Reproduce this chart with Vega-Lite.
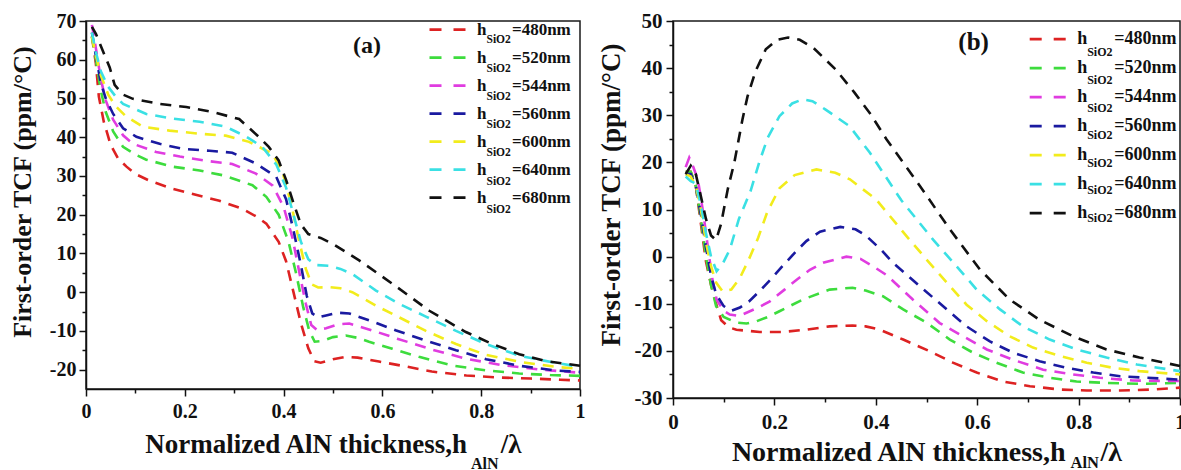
{
  "$schema": "https://vega.github.io/schema/vega-lite/v6.json",
  "background": "white",
  "padding": {"left": 8, "top": 9, "right": 0, "bottom": 0},
  "spacing": 10,
  "config": {
    "font": "Liberation Serif",
    "view": {"stroke": "#1a1a1a", "strokeWidth": 1.5},
    "axis": {"labelFont": "Liberation Serif", "labelFontWeight": "bold", "labelColor": "#111", "titleFont": "Liberation Serif", "titleFontWeight": "bold", "titleColor": "#111", "domainColor": "#111", "domainWidth": 1.5, "tickColor": "#111", "tickWidth": 1.5, "grid": false, "labelFlush": false, "labelOverlap": false},
    "legend": {"labelFont": "Liberation Serif", "labelFontWeight": "bold", "labelColor": "#111", "padding": 0, "labelLimit": 400}
  },
  "datasets": {
    "a": [
      {"s":"480","x":0.012,"y":66},{"s":"480","x":0.02,"y":59},{"s":"480","x":0.026,"y":50.5},{"s":"480","x":0.036,"y":44},{"s":"480","x":0.05,"y":38},{"s":"480","x":0.065,"y":34.5},{"s":"480","x":0.082,"y":32.4},{"s":"480","x":0.1,"y":30.5},{"s":"480","x":0.128,"y":28.8},{"s":"480","x":0.175,"y":26.7},{"s":"480","x":0.23,"y":24.9},{"s":"480","x":0.27,"y":23.6},{"s":"480","x":0.317,"y":21.5},{"s":"480","x":0.345,"y":19.5},{"s":"480","x":0.365,"y":17.7},{"s":"480","x":0.39,"y":13},{"s":"480","x":0.405,"y":8},{"s":"480","x":0.42,"y":0},{"s":"480","x":0.435,"y":-8},{"s":"480","x":0.45,"y":-14.5},{"s":"480","x":0.462,"y":-17.8},{"s":"480","x":0.475,"y":-18.2},{"s":"480","x":0.5,"y":-17.3},{"s":"480","x":0.525,"y":-16.7},{"s":"480","x":0.55,"y":-16.9},{"s":"480","x":0.593,"y":-17.9},{"s":"480","x":0.648,"y":-19.2},{"s":"480","x":0.7,"y":-20.5},{"s":"480","x":0.77,"y":-21.5},{"s":"480","x":0.83,"y":-22},{"s":"480","x":0.9,"y":-22.3},{"s":"480","x":0.96,"y":-22.6},{"s":"480","x":1,"y":-22.8},
      {"s":"520","x":0.012,"y":66},{"s":"520","x":0.02,"y":60},{"s":"520","x":0.03,"y":52},{"s":"520","x":0.04,"y":46.5},{"s":"520","x":0.055,"y":41.5},{"s":"520","x":0.075,"y":37.5},{"s":"520","x":0.1,"y":35.5},{"s":"520","x":0.122,"y":34.2},{"s":"520","x":0.175,"y":32.4},{"s":"520","x":0.23,"y":31.4},{"s":"520","x":0.28,"y":30.1},{"s":"520","x":0.337,"y":27.6},{"s":"520","x":0.365,"y":24.6},{"s":"520","x":0.39,"y":20},{"s":"520","x":0.41,"y":13},{"s":"520","x":0.425,"y":5},{"s":"520","x":0.44,"y":-4},{"s":"520","x":0.452,"y":-10},{"s":"520","x":0.463,"y":-12.8},{"s":"520","x":0.479,"y":-12.6},{"s":"520","x":0.5,"y":-11.6},{"s":"520","x":0.526,"y":-11.2},{"s":"520","x":0.55,"y":-11.8},{"s":"520","x":0.573,"y":-12.8},{"s":"520","x":0.62,"y":-14.6},{"s":"520","x":0.674,"y":-16.7},{"s":"520","x":0.74,"y":-18.9},{"s":"520","x":0.81,"y":-20.2},{"s":"520","x":0.877,"y":-21},{"s":"520","x":0.94,"y":-21.4},{"s":"520","x":1,"y":-21.6},
      {"s":"544","x":0.012,"y":69},{"s":"544","x":0.02,"y":63},{"s":"544","x":0.03,"y":55},{"s":"544","x":0.04,"y":49.5},{"s":"544","x":0.055,"y":44.5},{"s":"544","x":0.075,"y":40.5},{"s":"544","x":0.095,"y":38.3},{"s":"544","x":0.142,"y":36.2},{"s":"544","x":0.19,"y":35},{"s":"544","x":0.243,"y":33.9},{"s":"544","x":0.296,"y":33.1},{"s":"544","x":0.344,"y":30.6},{"s":"544","x":0.378,"y":27.5},{"s":"544","x":0.4,"y":22},{"s":"544","x":0.418,"y":14},{"s":"544","x":0.432,"y":5},{"s":"544","x":0.445,"y":-3},{"s":"544","x":0.456,"y":-8.5},{"s":"544","x":0.468,"y":-9.8},{"s":"544","x":0.486,"y":-9.3},{"s":"544","x":0.51,"y":-8.3},{"s":"544","x":0.533,"y":-8.1},{"s":"544","x":0.58,"y":-9.9},{"s":"544","x":0.63,"y":-12},{"s":"544","x":0.7,"y":-14.8},{"s":"544","x":0.77,"y":-17.2},{"s":"544","x":0.84,"y":-18.8},{"s":"544","x":0.92,"y":-20},{"s":"544","x":1,"y":-20.8},
      {"s":"560","x":0.012,"y":67},{"s":"560","x":0.02,"y":61},{"s":"560","x":0.03,"y":54},{"s":"560","x":0.04,"y":50},{"s":"560","x":0.055,"y":46},{"s":"560","x":0.075,"y":42.3},{"s":"560","x":0.102,"y":40.1},{"s":"560","x":0.149,"y":38.3},{"s":"560","x":0.196,"y":37},{"s":"560","x":0.25,"y":36.5},{"s":"560","x":0.296,"y":36},{"s":"560","x":0.344,"y":33.2},{"s":"560","x":0.385,"y":29.8},{"s":"560","x":0.405,"y":24},{"s":"560","x":0.42,"y":16},{"s":"560","x":0.435,"y":7},{"s":"560","x":0.447,"y":-1},{"s":"560","x":0.458,"y":-5.5},{"s":"560","x":0.47,"y":-6.5},{"s":"560","x":0.486,"y":-6},{"s":"560","x":0.51,"y":-5.3},{"s":"560","x":0.533,"y":-5.5},{"s":"560","x":0.58,"y":-7.6},{"s":"560","x":0.628,"y":-9.9},{"s":"560","x":0.688,"y":-12.5},{"s":"560","x":0.749,"y":-15},{"s":"560","x":0.81,"y":-17.3},{"s":"560","x":0.877,"y":-19},{"s":"560","x":0.95,"y":-20.2},{"s":"560","x":1,"y":-20.6},
      {"s":"600","x":0.012,"y":66},{"s":"600","x":0.02,"y":61},{"s":"600","x":0.03,"y":56},{"s":"600","x":0.045,"y":51},{"s":"600","x":0.06,"y":48},{"s":"600","x":0.08,"y":45.5},{"s":"600","x":0.115,"y":42.7},{"s":"600","x":0.169,"y":41.7},{"s":"600","x":0.23,"y":40.9},{"s":"600","x":0.283,"y":40.4},{"s":"600","x":0.33,"y":38.8},{"s":"600","x":0.378,"y":35.7},{"s":"600","x":0.4,"y":30},{"s":"600","x":0.415,"y":23},{"s":"600","x":0.43,"y":14},{"s":"600","x":0.445,"y":6},{"s":"600","x":0.457,"y":2},{"s":"600","x":0.47,"y":1.2},{"s":"600","x":0.492,"y":1.3},{"s":"600","x":0.515,"y":1},{"s":"600","x":0.539,"y":0},{"s":"600","x":0.587,"y":-3.5},{"s":"600","x":0.634,"y":-6.5},{"s":"600","x":0.688,"y":-10},{"s":"600","x":0.749,"y":-13.4},{"s":"600","x":0.81,"y":-16.2},{"s":"600","x":0.883,"y":-18.1},{"s":"600","x":0.96,"y":-19.4},{"s":"600","x":1,"y":-19.8},
      {"s":"640","x":0.012,"y":67},{"s":"640","x":0.02,"y":62},{"s":"640","x":0.03,"y":57},{"s":"640","x":0.045,"y":53},{"s":"640","x":0.06,"y":50.5},{"s":"640","x":0.075,"y":48.6},{"s":"640","x":0.122,"y":46},{"s":"640","x":0.175,"y":44.8},{"s":"640","x":0.23,"y":44},{"s":"640","x":0.283,"y":42.7},{"s":"640","x":0.325,"y":40.1},{"s":"640","x":0.357,"y":37.5},{"s":"640","x":0.385,"y":33},{"s":"640","x":0.405,"y":27},{"s":"640","x":0.42,"y":20},{"s":"640","x":0.435,"y":13},{"s":"640","x":0.45,"y":8.5},{"s":"640","x":0.465,"y":7},{"s":"640","x":0.492,"y":6.8},{"s":"640","x":0.515,"y":6},{"s":"640","x":0.539,"y":4.7},{"s":"640","x":0.587,"y":0.4},{"s":"640","x":0.634,"y":-3},{"s":"640","x":0.688,"y":-6.3},{"s":"640","x":0.749,"y":-10},{"s":"640","x":0.81,"y":-13.4},{"s":"640","x":0.877,"y":-16.4},{"s":"640","x":0.944,"y":-18.1},{"s":"640","x":1,"y":-19.3},
      {"s":"680","x":0.012,"y":68.5},{"s":"680","x":0.02,"y":66.7},{"s":"680","x":0.035,"y":62},{"s":"680","x":0.048,"y":58},{"s":"680","x":0.058,"y":53.5},{"s":"680","x":0.075,"y":51},{"s":"680","x":0.095,"y":49.9},{"s":"680","x":0.149,"y":48.6},{"s":"680","x":0.203,"y":47.8},{"s":"680","x":0.256,"y":46.5},{"s":"680","x":0.31,"y":44.7},{"s":"680","x":0.35,"y":40.1},{"s":"680","x":0.37,"y":37.5},{"s":"680","x":0.39,"y":34},{"s":"680","x":0.405,"y":29},{"s":"680","x":0.42,"y":23},{"s":"680","x":0.435,"y":17.5},{"s":"680","x":0.45,"y":15},{"s":"680","x":0.475,"y":14},{"s":"680","x":0.499,"y":12.5},{"s":"680","x":0.553,"y":8.2},{"s":"680","x":0.6,"y":4},{"s":"680","x":0.648,"y":-0.4},{"s":"680","x":0.695,"y":-4.8},{"s":"680","x":0.769,"y":-10.3},{"s":"680","x":0.823,"y":-13.4},{"s":"680","x":0.877,"y":-16},{"s":"680","x":0.93,"y":-17.8},{"s":"680","x":0.977,"y":-18.6},{"s":"680","x":1,"y":-19}
    ],
    "b": [
      {"s":"480","x":0.025,"y":18},{"s":"480","x":0.035,"y":18},{"s":"480","x":0.045,"y":15},{"s":"480","x":0.055,"y":7},{"s":"480","x":0.065,"y":-1},{"s":"480","x":0.075,"y":-6},{"s":"480","x":0.085,"y":-10},{"s":"480","x":0.095,"y":-13.5},{"s":"480","x":0.11,"y":-15},{"s":"480","x":0.125,"y":-15.5},{"s":"480","x":0.171,"y":-16},{"s":"480","x":0.216,"y":-16},{"s":"480","x":0.263,"y":-15.5},{"s":"480","x":0.309,"y":-14.8},{"s":"480","x":0.354,"y":-14.6},{"s":"480","x":0.38,"y":-14.8},{"s":"480","x":0.408,"y":-15.5},{"s":"480","x":0.454,"y":-17.6},{"s":"480","x":0.507,"y":-20.1},{"s":"480","x":0.552,"y":-22.5},{"s":"480","x":0.599,"y":-24.6},{"s":"480","x":0.651,"y":-26.5},{"s":"480","x":0.704,"y":-27.5},{"s":"480","x":0.763,"y":-28.2},{"s":"480","x":0.816,"y":-28.4},{"s":"480","x":0.882,"y":-28.4},{"s":"480","x":0.947,"y":-28.2},{"s":"480","x":1,"y":-27.8},
      {"s":"520","x":0.025,"y":18},{"s":"520","x":0.035,"y":18},{"s":"520","x":0.045,"y":15},{"s":"520","x":0.055,"y":8},{"s":"520","x":0.065,"y":0},{"s":"520","x":0.075,"y":-6},{"s":"520","x":0.085,"y":-10.5},{"s":"520","x":0.1,"y":-12.8},{"s":"520","x":0.125,"y":-14},{"s":"520","x":0.145,"y":-14.2},{"s":"520","x":0.165,"y":-13.7},{"s":"520","x":0.187,"y":-12.8},{"s":"520","x":0.21,"y":-11.6},{"s":"520","x":0.256,"y":-9.1},{"s":"520","x":0.309,"y":-7},{"s":"520","x":0.354,"y":-6.6},{"s":"520","x":0.38,"y":-7.2},{"s":"520","x":0.414,"y":-8.4},{"s":"520","x":0.454,"y":-11.2},{"s":"520","x":0.5,"y":-14},{"s":"520","x":0.546,"y":-17.6},{"s":"520","x":0.592,"y":-20.4},{"s":"520","x":0.638,"y":-22.5},{"s":"520","x":0.69,"y":-24.6},{"s":"520","x":0.743,"y":-25.7},{"s":"520","x":0.796,"y":-26.5},{"s":"520","x":0.855,"y":-26.8},{"s":"520","x":0.92,"y":-27},{"s":"520","x":1,"y":-26.8},
      {"s":"544","x":0.025,"y":19},{"s":"544","x":0.032,"y":21},{"s":"544","x":0.04,"y":19},{"s":"544","x":0.049,"y":16.4},{"s":"544","x":0.06,"y":9},{"s":"544","x":0.07,"y":1},{"s":"544","x":0.078,"y":-5},{"s":"544","x":0.086,"y":-9.1},{"s":"544","x":0.1,"y":-11.5},{"s":"544","x":0.112,"y":-12.3},{"s":"544","x":0.13,"y":-12.6},{"s":"544","x":0.145,"y":-11.9},{"s":"544","x":0.168,"y":-10.8},{"s":"544","x":0.191,"y":-9.5},{"s":"544","x":0.22,"y":-7},{"s":"544","x":0.244,"y":-4.9},{"s":"544","x":0.27,"y":-2.8},{"s":"544","x":0.296,"y":-1.3},{"s":"544","x":0.342,"y":0},{"s":"544","x":0.37,"y":-0.5},{"s":"544","x":0.394,"y":-2},{"s":"544","x":0.421,"y":-3.9},{"s":"544","x":0.473,"y":-9.1},{"s":"544","x":0.526,"y":-14.1},{"s":"544","x":0.572,"y":-16.9},{"s":"544","x":0.619,"y":-19.7},{"s":"544","x":0.671,"y":-21.9},{"s":"544","x":0.73,"y":-24},{"s":"544","x":0.789,"y":-25},{"s":"544","x":0.842,"y":-25.7},{"s":"544","x":0.907,"y":-26.3},{"s":"544","x":1,"y":-26.4},
      {"s":"560","x":0.025,"y":17.5},{"s":"560","x":0.035,"y":17.5},{"s":"560","x":0.045,"y":15},{"s":"560","x":0.055,"y":9},{"s":"560","x":0.065,"y":2},{"s":"560","x":0.075,"y":-4},{"s":"560","x":0.085,"y":-8},{"s":"560","x":0.1,"y":-10.5},{"s":"560","x":0.115,"y":-11.5},{"s":"560","x":0.132,"y":-10.8},{"s":"560","x":0.15,"y":-9.5},{"s":"560","x":0.171,"y":-7.3},{"s":"560","x":0.193,"y":-4.8},{"s":"560","x":0.216,"y":-2},{"s":"560","x":0.24,"y":0.8},{"s":"560","x":0.263,"y":3.3},{"s":"560","x":0.29,"y":5.3},{"s":"560","x":0.33,"y":6.3},{"s":"560","x":0.36,"y":5.8},{"s":"560","x":0.38,"y":4.5},{"s":"560","x":0.41,"y":1.5},{"s":"560","x":0.434,"y":-1.3},{"s":"560","x":0.487,"y":-6.3},{"s":"560","x":0.54,"y":-11.2},{"s":"560","x":0.579,"y":-14.8},{"s":"560","x":0.625,"y":-18},{"s":"560","x":0.671,"y":-20.4},{"s":"560","x":0.723,"y":-22.2},{"s":"560","x":0.776,"y":-23.6},{"s":"560","x":0.829,"y":-24.6},{"s":"560","x":0.882,"y":-25.4},{"s":"560","x":0.934,"y":-25.7},{"s":"560","x":1,"y":-26.1},
      {"s":"600","x":0.025,"y":17.5},{"s":"600","x":0.035,"y":17},{"s":"600","x":0.045,"y":15},{"s":"600","x":0.055,"y":10},{"s":"600","x":0.065,"y":3},{"s":"600","x":0.075,"y":-2},{"s":"600","x":0.085,"y":-5.5},{"s":"600","x":0.098,"y":-7.4},{"s":"600","x":0.115,"y":-7},{"s":"600","x":0.132,"y":-4.5},{"s":"600","x":0.15,"y":-0.5},{"s":"600","x":0.168,"y":4},{"s":"600","x":0.186,"y":9.5},{"s":"600","x":0.21,"y":14.5},{"s":"600","x":0.24,"y":17.3},{"s":"600","x":0.283,"y":18.5},{"s":"600","x":0.32,"y":17.8},{"s":"600","x":0.349,"y":16.4},{"s":"600","x":0.401,"y":12.1},{"s":"600","x":0.461,"y":4.3},{"s":"600","x":0.5,"y":-0.6},{"s":"600","x":0.54,"y":-5.5},{"s":"600","x":0.579,"y":-10.2},{"s":"600","x":0.619,"y":-13.7},{"s":"600","x":0.664,"y":-16.9},{"s":"600","x":0.71,"y":-19.3},{"s":"600","x":0.763,"y":-21.1},{"s":"600","x":0.816,"y":-22.5},{"s":"600","x":0.868,"y":-23.6},{"s":"600","x":0.92,"y":-24.3},{"s":"600","x":1,"y":-25},
      {"s":"640","x":0.025,"y":17},{"s":"640","x":0.035,"y":16},{"s":"640","x":0.045,"y":15.5},{"s":"640","x":0.055,"y":11},{"s":"640","x":0.065,"y":5},{"s":"640","x":0.075,"y":0},{"s":"640","x":0.086,"y":-3.1},{"s":"640","x":0.098,"y":-1.5},{"s":"640","x":0.112,"y":1.5},{"s":"640","x":0.13,"y":8},{"s":"640","x":0.153,"y":13.9},{"s":"640","x":0.17,"y":20},{"s":"640","x":0.187,"y":25.3},{"s":"640","x":0.21,"y":29.8},{"s":"640","x":0.235,"y":32.5},{"s":"640","x":0.256,"y":33.4},{"s":"640","x":0.275,"y":33},{"s":"640","x":0.301,"y":31.2},{"s":"640","x":0.348,"y":27.7},{"s":"640","x":0.388,"y":22.1},{"s":"640","x":0.45,"y":12},{"s":"640","x":0.513,"y":3.6},{"s":"640","x":0.559,"y":-2},{"s":"640","x":0.599,"y":-7},{"s":"640","x":0.645,"y":-11.2},{"s":"640","x":0.69,"y":-14.8},{"s":"640","x":0.743,"y":-17.6},{"s":"640","x":0.796,"y":-19.7},{"s":"640","x":0.855,"y":-21.4},{"s":"640","x":0.915,"y":-22.9},{"s":"640","x":1,"y":-24.3},
      {"s":"680","x":0.025,"y":17.5},{"s":"680","x":0.035,"y":19.3},{"s":"680","x":0.045,"y":17.5},{"s":"680","x":0.055,"y":12.8},{"s":"680","x":0.065,"y":8},{"s":"680","x":0.075,"y":4.5},{"s":"680","x":0.085,"y":3.5},{"s":"680","x":0.095,"y":7},{"s":"680","x":0.101,"y":10.4},{"s":"680","x":0.108,"y":14.3},{"s":"680","x":0.121,"y":20},{"s":"680","x":0.137,"y":29.1},{"s":"680","x":0.147,"y":34},{"s":"680","x":0.163,"y":39.4},{"s":"680","x":0.183,"y":44},{"s":"680","x":0.205,"y":46},{"s":"680","x":0.227,"y":46.5},{"s":"680","x":0.25,"y":46},{"s":"680","x":0.276,"y":44.4},{"s":"680","x":0.321,"y":39.7},{"s":"680","x":0.358,"y":34.8},{"s":"680","x":0.39,"y":30.2},{"s":"680","x":0.421,"y":24.9},{"s":"680","x":0.487,"y":15},{"s":"680","x":0.546,"y":5.8},{"s":"680","x":0.605,"y":-2.7},{"s":"680","x":0.664,"y":-9.1},{"s":"680","x":0.723,"y":-13.4},{"s":"680","x":0.789,"y":-16.9},{"s":"680","x":0.855,"y":-19.7},{"s":"680","x":0.92,"y":-21.4},{"s":"680","x":1,"y":-23.2}
    ]
  },
  "resolve": {"scale": {"color": "independent", "strokeDash": "independent"}},
  "hconcat": [
    {
      "width": 494,
      "height": 368,
      "data": {"name": "a"},
      "resolve": {"axis": {"x": "independent", "y": "independent"}},
      "layer": [
        {
          "transform": [{"calculate": "datum.s", "as": "s2"}],
          "mark": {"type": "line", "strokeWidth": 2.6},
          "encoding": {
            "x": {"field": "x", "type": "quantitative", "scale": {"domain": [0, 1], "nice": false, "zero": false},
              "axis": {"orient": "bottom", "values": [0, 0.2, 0.4, 0.6, 0.8, 1], "labelExpr": "'' + datum.value", "labelFontSize": 20, "tickSize": 7, "labelPadding": 5,
                "title": "Normalized AlN thickness,h\u00a0\u00a0\u00a0\u00a0\u00a0/λ", "titleFontSize": 27, "titlePadding": 10}},
            "y": {"field": "y", "type": "quantitative", "scale": {"domain": [-25, 70], "nice": false, "zero": false},
              "axis": {"orient": "left", "values": [-20, -10, 0, 10, 20, 30, 40, 50, 60, 70], "labelExpr": "'' + datum.value", "labelFontSize": 20, "tickSize": 7, "labelPadding": 3,
                "title": "First-order TCF (ppm/°C)", "titleFontSize": 26, "titlePadding": 14, "titleY": 170.5}},
            "color": {"field": "s", "type": "nominal",
              "scale": {"range": ["#dd2222", "#3ddc3d", "#e03ce0", "#1a1aa0", "#f2ec1c", "#3ae0e4", "#111111"]},
              "legend": {"orient": "none", "legendX": 342, "legendY": -10.9, "title": null, "symbolType": "stroke", "symbolSize": 1296, "symbolStrokeWidth": 2.6, "symbolDash": [12, 12], "labelFontSize": 17, "labelOffset": 10, "rowPadding": -1.6,
                "labelExpr": "'h\u00a0\u00a0\u00a0\u00a0\u00a0\u00a0=' + datum.label + 'nm'"}},
            "strokeDash": {"field": "s2", "type": "nominal",
              "scale": {"range": [[11, 8], [11, 8], [11, 8], [11, 8], [11, 8], [11, 8], [11, 8]]},
              "legend": {"orient": "none", "legendX": 389, "legendY": 13.5, "title": null, "symbolSize": 0, "symbolStrokeWidth": 0, "symbolOpacity": 0, "labelFontSize": 11.5, "labelOffset": 0, "rowPadding": 15.3, "labelExpr": "'SiO2'"}}
          }
        },
        {
          "mark": {"type": "point", "opacity": 0},
          "encoding": {
            "x": {"field": "x", "type": "quantitative",
              "axis": {"orient": "bottom", "values": [0.1, 0.3, 0.5, 0.7, 0.9], "labels": false, "domain": false, "tickSize": 4,
                "title": "AlN", "titleFontSize": 16, "titleX": 384.5, "titleY": 74, "titleAlign": "left", "titleBaseline": "middle"}},
            "y": {"field": "y", "type": "quantitative",
              "axis": {"orient": "left", "values": [-15, -5, 5, 15, 25, 35, 45, 55, 65], "labels": false, "domain": false, "tickSize": 4, "title": null}}
          }
        },
        {
          "data": {"values": [{}]},
          "mark": {"type": "text", "font": "Liberation Serif", "fontWeight": "bold", "fontSize": 24, "color": "#111", "text": "(a)"},
          "encoding": {
            "x": {"datum": 0.569, "type": "quantitative", "axis": null},
            "y": {"datum": 63.6, "type": "quantitative", "axis": null}
          }
        }
      ]
    },
    {
      "width": 507,
      "height": 377,
      "data": {"name": "b"},
      "resolve": {"axis": {"x": "independent", "y": "independent"}},
      "layer": [
        {
          "transform": [{"calculate": "datum.s", "as": "s2"}],
          "mark": {"type": "line", "strokeWidth": 2.6},
          "encoding": {
            "x": {"field": "x", "type": "quantitative", "scale": {"domain": [0, 1], "nice": false, "zero": false},
              "axis": {"orient": "bottom", "values": [0, 0.2, 0.4, 0.6, 0.8, 1], "labelExpr": "'' + datum.value", "labelFontSize": 21, "tickSize": 7, "labelPadding": 6,
                "title": "Normalized AlN thickness,h\u00a0\u00a0\u00a0\u00a0\u00a0/λ", "titleFontSize": 28, "titlePadding": 6}},
            "y": {"field": "y", "type": "quantitative", "scale": {"domain": [-30, 50], "nice": false, "zero": false},
              "axis": {"orient": "left", "values": [-30, -20, -10, 0, 10, 20, 30, 40, 50], "labelExpr": "'' + datum.value", "labelFontSize": 21, "tickSize": 7, "labelPadding": 4,
                "title": "First-order TCF (ppm/°C)", "titleFontSize": 27, "titlePadding": 9, "titleY": 173.5}},
            "color": {"field": "s", "type": "nominal",
              "scale": {"range": ["#dd2222", "#3ddc3d", "#e03ce0", "#1a1aa0", "#f2ec1c", "#3ae0e4", "#111111"]},
              "legend": {"orient": "none", "legendX": 355.2, "legendY": -1.4, "title": null, "symbolType": "stroke", "symbolSize": 1296, "symbolStrokeWidth": 2.6, "symbolDash": [12, 12], "labelFontSize": 18, "labelOffset": 10, "rowPadding": -1.4,
                "labelExpr": "'h\u00a0\u00a0\u00a0\u00a0\u00a0\u00a0=' + datum.label + 'nm'"}},
            "strokeDash": {"field": "s2", "type": "nominal",
              "scale": {"range": [[11, 8], [11, 8], [11, 8], [11, 8], [11, 8], [11, 8], [11, 8]]},
              "legend": {"orient": "none", "legendX": 402.2, "legendY": 25.3, "title": null, "symbolSize": 0, "symbolStrokeWidth": 0, "symbolOpacity": 0, "labelFontSize": 12, "labelOffset": 0, "rowPadding": 15.6, "labelExpr": "'SiO2'"}}
          }
        },
        {
          "mark": {"type": "point", "opacity": 0},
          "encoding": {
            "x": {"field": "x", "type": "quantitative",
              "axis": {"orient": "bottom", "values": [0.1, 0.3, 0.5, 0.7, 0.9], "labels": false, "domain": false, "tickSize": 4,
                "title": "AlN", "titleFontSize": 16.5, "titleX": 397, "titleY": 64, "titleAlign": "left", "titleBaseline": "middle"}},
            "y": {"field": "y", "type": "quantitative",
              "axis": {"orient": "left", "values": [-25, -15, -5, 5, 15, 25, 35, 45], "labels": false, "domain": false, "tickSize": 4, "title": null}}
          }
        },
        {
          "data": {"values": [{}]},
          "mark": {"type": "text", "font": "Liberation Serif", "fontWeight": "bold", "fontSize": 25, "color": "#111", "text": "(b)"},
          "encoding": {
            "x": {"datum": 0.593, "type": "quantitative", "axis": null},
            "y": {"datum": 45.5, "type": "quantitative", "axis": null}
          }
        }
      ]
    }
  ]
}
